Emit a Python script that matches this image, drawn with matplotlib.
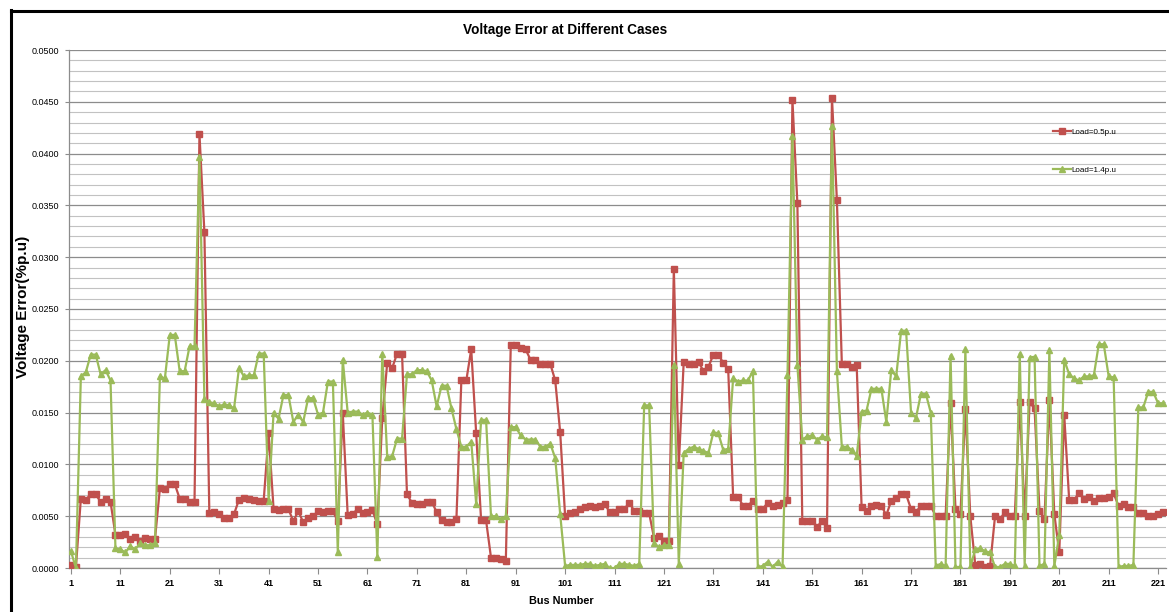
import matplotlib
matplotlib.use("Agg")
import matplotlib.pyplot as plt
from matplotlib.lines import Line2D
from matplotlib.ticker import MultipleLocator, FormatStrFormatter

W, H = 1169, 612

bus = list(range(1, 223))

load_05 = [
    0.0003, 0.0001, 0.0067, 0.0066, 0.0071, 0.0071, 0.0064, 0.0067, 0.0064, 0.0032,
    0.0032, 0.0033, 0.0028, 0.0030, 0.0026, 0.0029, 0.0028, 0.0028, 0.0077, 0.0076,
    0.0081, 0.0081, 0.0067, 0.0067, 0.0064, 0.0064, 0.0419, 0.0324, 0.0053, 0.0054,
    0.0052, 0.0048, 0.0048, 0.0052, 0.0066, 0.0068, 0.0067, 0.0066, 0.0065, 0.0065,
    0.0130, 0.0057, 0.0056, 0.0057, 0.0057, 0.0045, 0.0055, 0.0044, 0.0048, 0.0050,
    0.0055, 0.0054, 0.0055, 0.0055, 0.0045, 0.0150, 0.0051, 0.0052, 0.0057, 0.0053,
    0.0054, 0.0056, 0.0042, 0.0145, 0.0198, 0.0193, 0.0207, 0.0207, 0.0071, 0.0063,
    0.0062, 0.0062, 0.0064, 0.0064, 0.0054, 0.0046, 0.0044, 0.0044, 0.0047, 0.0181,
    0.0181, 0.0211, 0.0130, 0.0046, 0.0046, 0.0010, 0.0010, 0.0009, 0.0007, 0.0215,
    0.0215, 0.0212, 0.0211, 0.0201, 0.0201, 0.0197, 0.0197, 0.0197, 0.0181, 0.0131,
    0.0050, 0.0053, 0.0054, 0.0057, 0.0059, 0.0060, 0.0059, 0.0060, 0.0062, 0.0054,
    0.0054, 0.0057, 0.0057, 0.0063, 0.0055, 0.0055, 0.0053, 0.0053, 0.0029, 0.0031,
    0.0026, 0.0026, 0.0289, 0.0099, 0.0199, 0.0197, 0.0197, 0.0199, 0.0190, 0.0194,
    0.0206, 0.0206, 0.0198, 0.0192, 0.0069, 0.0069, 0.0060, 0.0060, 0.0065, 0.0057,
    0.0057, 0.0063, 0.0060, 0.0061, 0.0063, 0.0066, 0.0452, 0.0352, 0.0045, 0.0045,
    0.0045, 0.0040, 0.0045, 0.0039, 0.0454, 0.0355, 0.0197, 0.0197, 0.0194, 0.0196,
    0.0059, 0.0055, 0.0060, 0.0061, 0.0060, 0.0051, 0.0065, 0.0068, 0.0071, 0.0071,
    0.0057, 0.0054, 0.0060, 0.0060, 0.0060, 0.0050, 0.0050, 0.0050, 0.0159, 0.0057,
    0.0052, 0.0153, 0.0050, 0.0003, 0.0004, 0.0001, 0.0002, 0.0050, 0.0047, 0.0054,
    0.0050, 0.0050, 0.0160, 0.0050, 0.0160, 0.0154, 0.0055, 0.0047, 0.0162, 0.0052,
    0.0015, 0.0148, 0.0066, 0.0066, 0.0072, 0.0067, 0.0069, 0.0065, 0.0068, 0.0068,
    0.0069, 0.0072, 0.0060, 0.0062, 0.0059, 0.0059, 0.0053, 0.0053, 0.0050, 0.0050,
    0.0052, 0.0054,
]

load_14 = [
    0.0016, 0.0000, 0.0185, 0.0189, 0.0206, 0.0206, 0.0187, 0.0191, 0.0181, 0.0019,
    0.0018, 0.0015, 0.0021, 0.0018, 0.0024, 0.0022, 0.0022, 0.0024, 0.0185, 0.0183,
    0.0225, 0.0225, 0.0190, 0.0190, 0.0214, 0.0214, 0.0397, 0.0163, 0.0160, 0.0159,
    0.0156, 0.0158, 0.0157, 0.0154, 0.0193, 0.0185, 0.0186, 0.0186, 0.0207, 0.0207,
    0.0065, 0.0150, 0.0144, 0.0167, 0.0167, 0.0141, 0.0148, 0.0141, 0.0164, 0.0164,
    0.0148, 0.0150, 0.0180, 0.0180, 0.0015, 0.0201, 0.0150, 0.0151, 0.0151, 0.0148,
    0.0150, 0.0148, 0.0011, 0.0207, 0.0107, 0.0108, 0.0125, 0.0125, 0.0187, 0.0187,
    0.0191, 0.0191, 0.0190, 0.0181, 0.0156, 0.0176, 0.0176, 0.0154, 0.0134, 0.0117,
    0.0117, 0.0122, 0.0062, 0.0143, 0.0143, 0.0050, 0.0050, 0.0047, 0.0050, 0.0136,
    0.0136, 0.0128, 0.0124, 0.0124, 0.0124, 0.0117, 0.0117, 0.0120, 0.0106, 0.0052,
    0.0002, 0.0003, 0.0003, 0.0003, 0.0004, 0.0004, 0.0002, 0.0003, 0.0004, 0.0000,
    0.0000, 0.0004, 0.0004, 0.0003, 0.0002, 0.0004, 0.0157, 0.0157, 0.0024, 0.0020,
    0.0022, 0.0022, 0.0196, 0.0004, 0.0111, 0.0115, 0.0117, 0.0115, 0.0113, 0.0111,
    0.0131, 0.0130, 0.0114, 0.0115, 0.0183, 0.0180, 0.0181, 0.0181, 0.0190, 0.0001,
    0.0002, 0.0006, 0.0001, 0.0006, 0.0001, 0.0186, 0.0417, 0.0196, 0.0124, 0.0127,
    0.0128, 0.0124, 0.0127, 0.0126, 0.0427, 0.0190, 0.0117, 0.0117, 0.0114, 0.0108,
    0.0151, 0.0152, 0.0173, 0.0173, 0.0173, 0.0141, 0.0191, 0.0185, 0.0229, 0.0229,
    0.0150, 0.0145, 0.0168, 0.0168, 0.0150, 0.0002, 0.0004, 0.0002, 0.0205, 0.0001,
    0.0001, 0.0211, 0.0001, 0.0018, 0.0019, 0.0016, 0.0015, 0.0001, 0.0001, 0.0004,
    0.0004, 0.0002, 0.0207, 0.0002, 0.0203, 0.0204, 0.0002, 0.0004, 0.0210, 0.0002,
    0.0032, 0.0201, 0.0187, 0.0183, 0.0181, 0.0185, 0.0185, 0.0186, 0.0216, 0.0216,
    0.0185, 0.0184, 0.0001, 0.0002, 0.0002, 0.0003, 0.0155, 0.0155, 0.0170, 0.0170,
    0.0159, 0.0159,
]

series_labels = ["Load=0.5p.u", "Load=1.4p.u"]
x_ticks = list(range(1, 222, 10))

RED = "#C0504D"
GREEN = "#9BBB59"
plt.rcParams["font.family"] = ["Liberation Sans", "DejaVu Sans"]


def px(x, y):
    return x / W, 1 - y / H


fig = plt.figure(figsize=(W / 100, H / 100), dpi=100)
L, R, T, B = 69, 1166, 50, 568
ax = fig.add_axes([L / W, 1 - B / H, (R - L) / W, (B - T) / H])

ax.plot(bus, load_05, color=RED, lw=1.6, marker="s", ms=4.6, mec=RED,
        label=series_labels[0], zorder=3)
ax.plot(bus, load_14, color=GREEN, lw=1.6, marker="^", ms=5.0, mec=GREEN,
        label=series_labels[1], zorder=4)

ax.set_xlim(0.6, 222.6)
ax.set_ylim(0, 0.05)
ax.set_xticks(x_ticks)
ax.yaxis.set_major_locator(MultipleLocator(0.005))
ax.yaxis.set_minor_locator(MultipleLocator(0.001))
ax.yaxis.set_major_formatter(FormatStrFormatter("%.4f"))
ax.grid(which="minor", axis="y", color="#c2c2c2", lw=0.8, zorder=0)
ax.grid(which="major", axis="y", color="#8c8c8c", lw=0.9, zorder=0)
ax.set_axisbelow(True)
ax.tick_params(axis="y", which="major", length=3, width=0.8, color="#8c8c8c",
               labelsize=6.5, pad=4)
ax.tick_params(axis="y", which="minor", length=0)
ax.tick_params(axis="x", length=4, width=0.8, color="#8c8c8c", labelsize=6.5, pad=4)
for lab in ax.get_xticklabels():
    lab.set_fontweight("bold")
for side in ["top", "right"]:
    ax.spines[side].set_visible(False)
for side in ["left", "bottom"]:
    ax.spines[side].set_color("#8c8c8c")
    ax.spines[side].set_linewidth(0.9)

fig.text(*px(565, 30), "Voltage Error at Different Cases", ha="center", va="center",
         fontsize=9.8, fontweight="bold")
fig.text(*px(23, 307), "Voltage Error(%p.u)", ha="center", va="center", rotation=90,
         fontsize=11, fontweight="bold")
fig.text(*px(561, 601), "Bus Number", ha="center", va="center",
         fontsize=7.8, fontweight="bold")

fig.legend(loc="upper left", bbox_to_anchor=px(1053, 128), frameon=False,
           fontsize=5.8, handlelength=2.2, handletextpad=0.1, labelspacing=3.8,
           borderpad=0, borderaxespad=0)

# chart frame (only top and left edges are in view)
fig.add_artist(Line2D([11 / W, 1], [1 - 11 / H, 1 - 11 / H], color="black", lw=2.2,
                      transform=fig.transFigure))
fig.add_artist(Line2D([11 / W, 11 / W], [1 - 10 / H, 0], color="black", lw=2.2,
                      transform=fig.transFigure))

fig.savefig("out.png", dpi=100)
